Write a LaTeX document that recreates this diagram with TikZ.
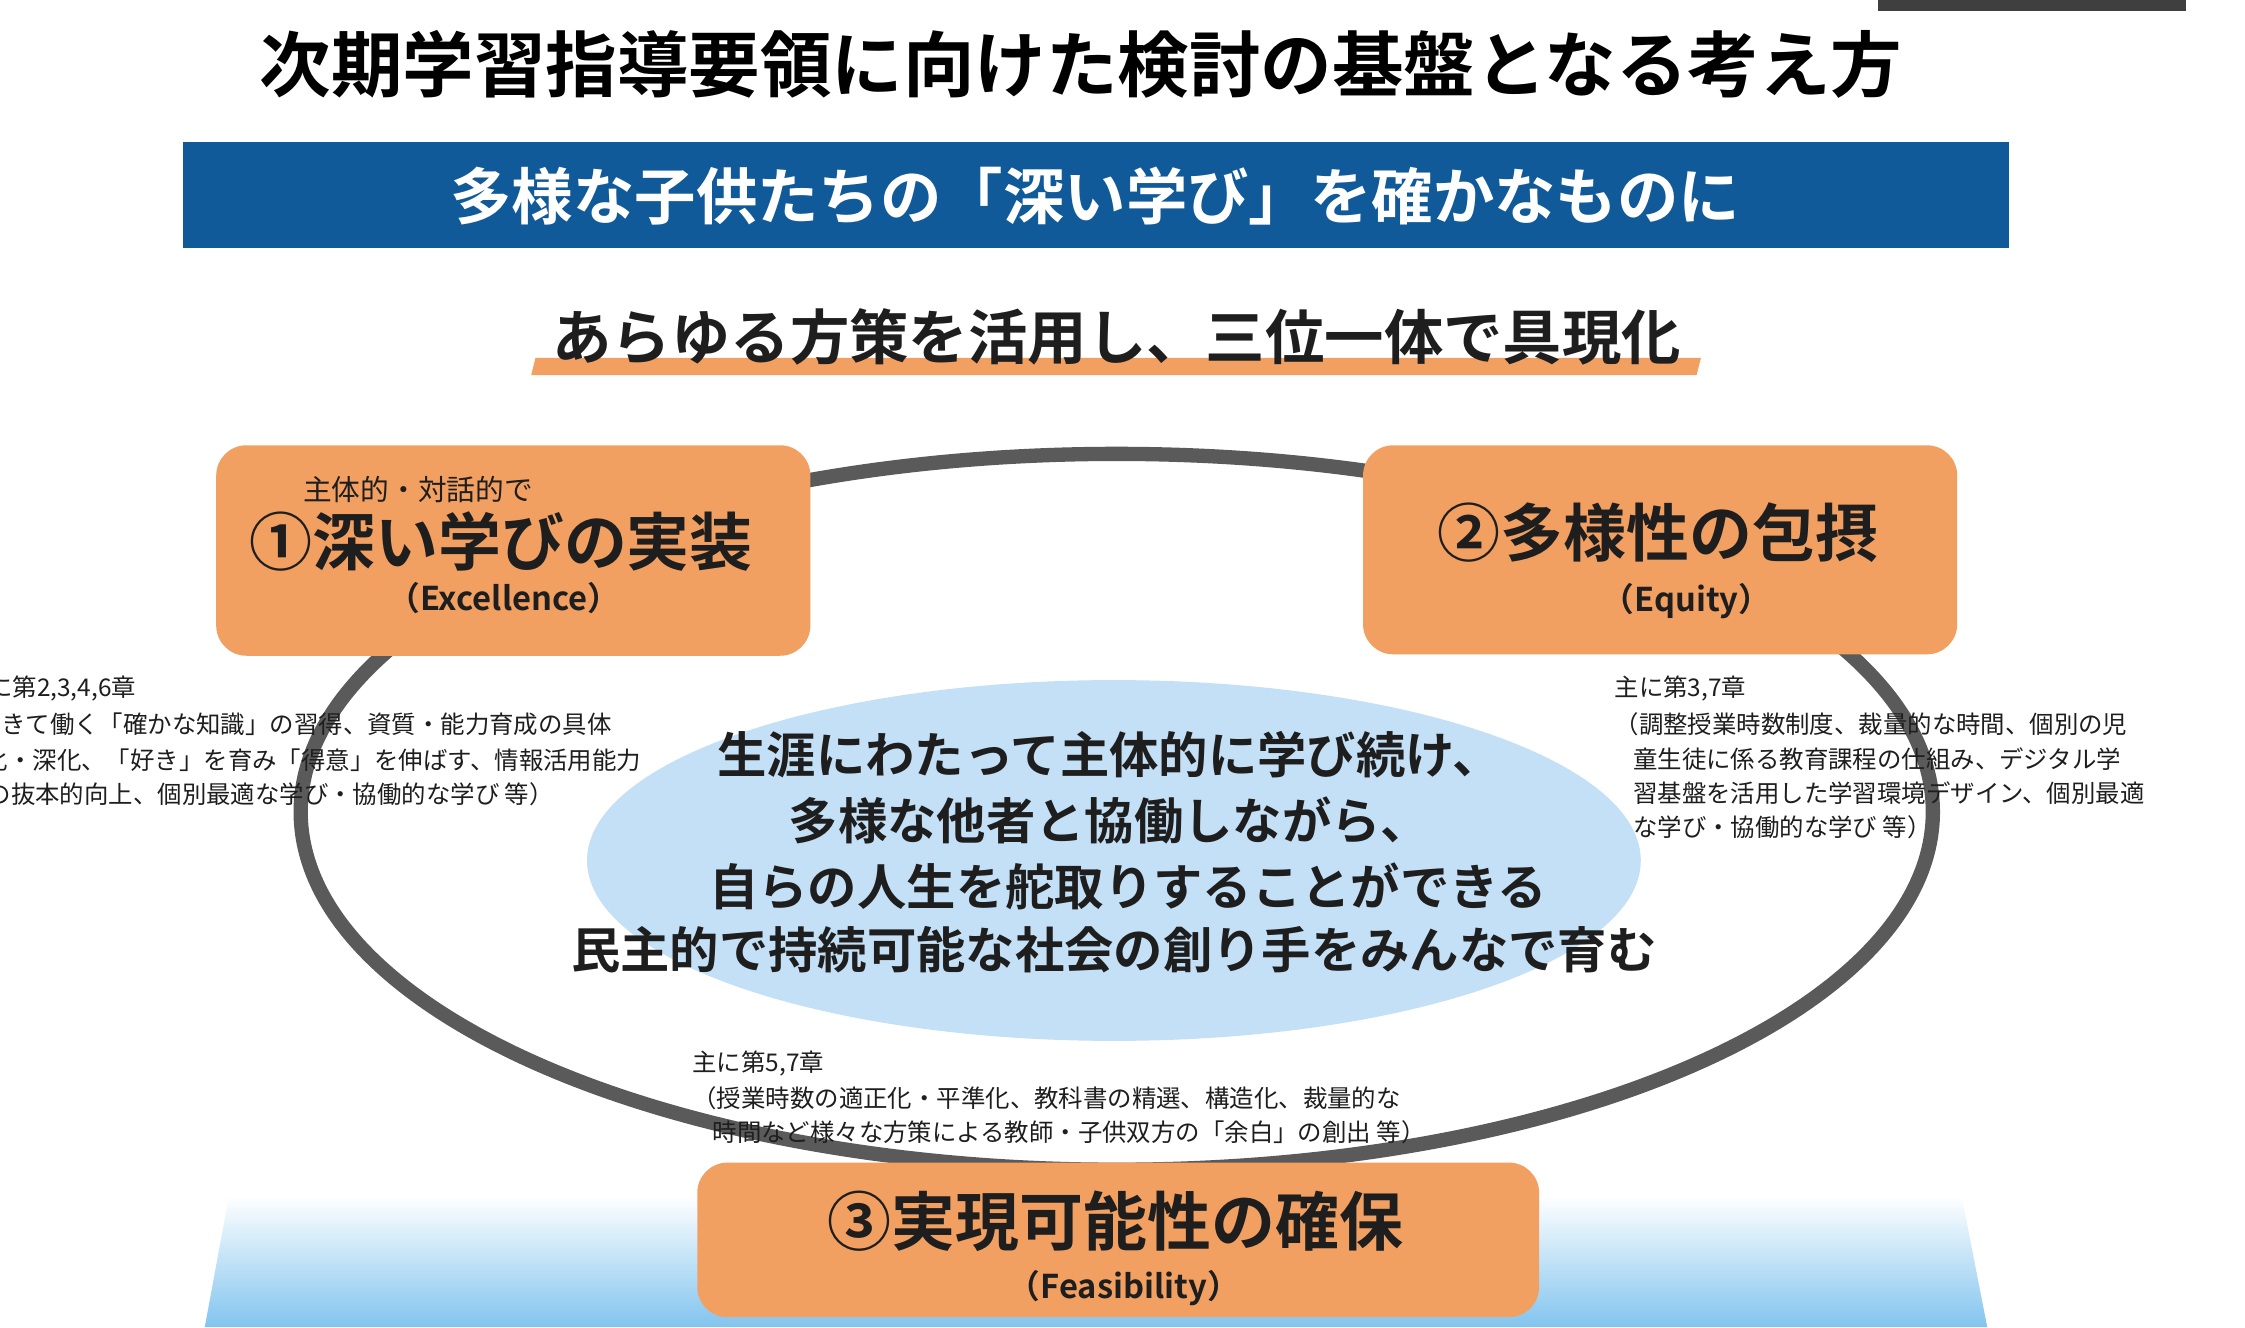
\documentclass[tikz,border=0pt]{standalone}
\usepackage{fontspec}
\setmainfont{Noto Sans CJK JP}[BoldFont={Noto Sans CJK JP Bold}]
\definecolor{banner}{RGB}{16,90,154}
\definecolor{boxor}{RGB}{242,160,98}
\definecolor{lblue}{RGB}{196,224,246}
\definecolor{gblue}{RGB}{130,196,238}
\definecolor{ringg}{RGB}{90,90,90}
\definecolor{txt}{RGB}{30,30,30}
\tikzset{
 fs/.style={font=\fontsize{#1}{#1}\selectfont},
 fb/.style={font=\fontsize{#1}{#1}\selectfont\bfseries},
 orbox/.style={draw=none,fill=boxor,rounded corners=6pt},
 small/.style={fs=4.85,text=txt,anchor=west,inner sep=0pt},
 head/.style={fb=#1,text=txt,inner sep=0pt},
}
\begin{document}
\begin{tikzpicture}[x=0.01cm,y=-0.01cm]
\useasboundingbox (0,0) rectangle (1568,927);
\fill[white] (0,0) rectangle (1568,927);
\fill[ringg!70!black] (1312,0) rectangle (1527,8);
% bottom gradient
\shade[top color=white,bottom color=gblue] (160,835) -- (1370,835) -- (1388,927) -- (143,927) -- cycle;
% title
\node[fb=14.2,inner sep=0pt] (title) at (755,45) {次期学習指導要領に向けた検討の基盤となる考え方};
\node[fill=banner,minimum width=1275*0.01cm,minimum height=74*0.01cm,inner sep=0pt] (ban) at (765.5,136) {};
\node[fb=12.2,text=white,inner sep=0pt] (bantext) at (765,137) {多様な子供たちの「深い学び」を確かなものに};
\fill[boxor] (374,250) -- (1188,250) -- (1185,262) -- (371,262) -- cycle;
\node[head=11.8] (sub) at (780,235) {あらゆる方策を活用し、三位一体で具現化};
% ring
\draw[ringg,line width=10*0.01cm] (780,567) ellipse [x radius=570,y radius=250];
\fill[lblue] (778,601) ellipse [x radius=368,y radius=126];
\node[head=9.8] (c1) at (775,527) {生涯にわたって主体的に学び続け、};
\node[head=9.8] (c2) at (775,573) {多様な他者と協働しながら、};
\node[head=9.8] (c3) at (788,619) {自らの人生を舵取りすることができる};
\node[head=9.8] (c4) at (778,663) {民主的で持続可能な社会の創り手をみんなで育む};
% boxes
\fill[orbox] (151,311) rectangle (566,458);
\node[fs=5.7,text=txt,inner sep=0pt] (b1s) at (292,342) {主体的・対話的で};
\node[head=12.5] (b1) at (350,378) {①深い学びの実装};
\node[head=6.5] (b1e) at (352,418) {（Excellence）};
\fill[orbox] (952,311) rectangle (1367,457);
\node[head=12.5] (b2) at (1158,372) {②多様性の包摂};
\node[head=6.5] (b2e) at (1178,420) {（Equity）};
\fill[orbox] (487,812) rectangle (1075,920);
\node[head=12.7] (b3) at (779,853) {③実現可能性の確保};
\node[head=6.5] (b3e) at (785,900) {（Feasibility）};
% left notes
\node[small] (l1) at (-26,481) {主に第2,3,4,6章};
\node[small] (l2) at (-34,506) {（生きて働く「確かな知識」の習得、資質・能力育成の具体};
\node[small] (l3) at (-12,531) {化・深化、「好き」を育み「得意」を伸ばす、情報活用能力};
\node[small] (l4) at (-10,555) {の抜本的向上、個別最適な学び・協働的な学び 等）};
% right notes
\node[small] (r1) at (1127,481) {主に第3,7章};
\node[small] (r2) at (1127,506) {（調整授業時数制度、裁量的な時間、個別の児};
\node[small] (r3) at (1140,530) {童生徒に係る教育課程の仕組み、デジタル学};
\node[small] (r4) at (1140,554) {習基盤を活用した学習環境デザイン、個別最適};
\node[small] (r5) at (1140,578) {な学び・協働的な学び 等）};
% bottom notes
\node[small] (m1) at (483,743) {主に第5,7章};
\node[small] (m2) at (483,767) {（授業時数の適正化・平準化、教科書の精選、構造化、裁量的な};
\node[small] (m3) at (497,791) {時間など様々な方策による教師・子供双方の「余白」の創出 等）};
\end{tikzpicture}
\end{document}
